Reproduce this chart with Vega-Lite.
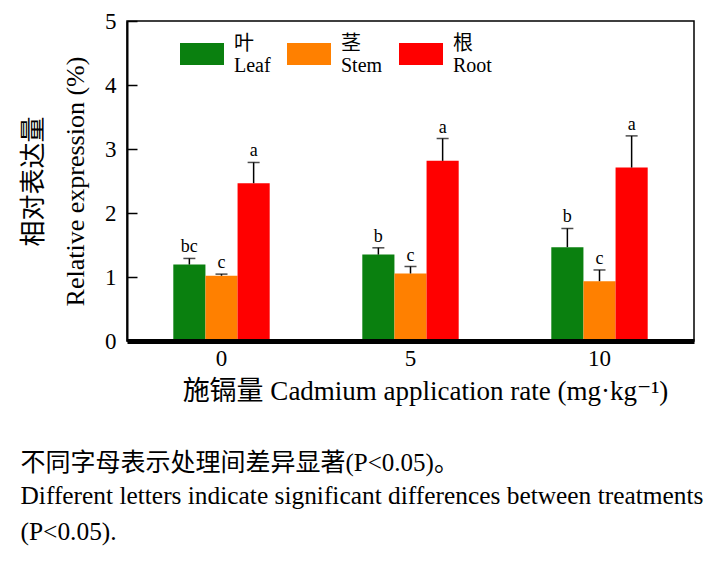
{
  "$schema": "https://vega.github.io/schema/vega-lite/v6.json",
  "width": 567,
  "height": 320,
  "padding": {"left": 20, "top": 10, "right": 10, "bottom": 10},
  "background": "white",
  "title": {
    "text": "不同字母表示处理间差异显著(P<0.05)。",
    "subtitle": ["Different letters indicate significant differences between treatments", "(P<0.05)."],
    "orient": "bottom",
    "anchor": "start",
    "frame": "bounds",
    "font": "Liberation Serif, Noto Sans CJK SC",
    "fontSize": 25,
    "fontWeight": "normal",
    "color": "black",
    "subtitleFont": "Liberation Serif",
    "subtitleFontSize": 25.4,
    "subtitleColor": "black",
    "subtitleLineHeight": 36,
    "subtitlePadding": 8,
    "offset": 47
  },
  "data": {
    "values": [
      {"rate": "0", "organ": "Leaf", "value": 1.195, "upper": 1.29, "letter": "bc"},
      {"rate": "0", "organ": "Stem", "value": 1.02, "upper": 1.045, "letter": "c"},
      {"rate": "0", "organ": "Root", "value": 2.466, "upper": 2.79, "letter": "a"},
      {"rate": "5", "organ": "Leaf", "value": 1.35, "upper": 1.456, "letter": "b"},
      {"rate": "5", "organ": "Stem", "value": 1.055, "upper": 1.164, "letter": "c"},
      {"rate": "5", "organ": "Root", "value": 2.815, "upper": 3.164, "letter": "a"},
      {"rate": "10", "organ": "Leaf", "value": 1.466, "upper": 1.758, "letter": "b"},
      {"rate": "10", "organ": "Stem", "value": 0.935, "upper": 1.11, "letter": "c"},
      {"rate": "10", "organ": "Root", "value": 2.71, "upper": 3.205, "letter": "a"}
    ]
  },
  "encoding": {
    "x": {
      "field": "rate",
      "type": "nominal",
      "sort": ["0", "5", "10"],
      "scale": {"paddingInner": 0.49, "paddingOuter": 0.245},
      "axis": {
        "title": "施镉量 Cadmium application rate (mg·kg⁻¹)",
        "labelAngle": 0,
        "ticks": false,
        "domainColor": "black",
        "domainWidth": 5,
        "labelFont": "Liberation Serif",
        "labelFontSize": 23,
        "labelColor": "black",
        "labelPadding": 6,
        "titleFont": "Liberation Serif, DejaVu Serif, Noto Sans CJK SC",
        "titleFontSize": 27,
        "titleFontWeight": "normal",
        "titleColor": "black",
        "titlePadding": 8,
        "titleX": 298,
        "titleAlign": "center",
        "zindex": 1
      }
    },
    "xOffset": {
      "field": "organ",
      "type": "nominal",
      "sort": ["Leaf", "Stem", "Root"],
      "scale": {"paddingInner": 0, "paddingOuter": 0}
    }
  },
  "layer": [
    {
      "mark": {"type": "bar"},
      "encoding": {
        "y": {
          "field": "value",
          "type": "quantitative",
          "scale": {"domain": [0, 5], "nice": false},
          "axis": {
            "values": [0, 0.5, 1, 1.5, 2, 2.5, 3, 3.5, 4, 4.5, 5],
            "labelExpr": "datum.value % 1 === 0 ? '' + datum.value : ''",
            "tickSize": {"condition": {"test": "datum.value % 1 !== 0", "value": -5}, "value": -10},
            "tickColor": "black",
            "tickWidth": 1.5,
            "domainColor": "black",
            "domainWidth": 2,
            "grid": false,
            "labelFont": "Liberation Serif",
            "labelFontSize": 23,
            "labelColor": "black",
            "labelPadding": 21,
            "title": ["相对表达量", "Relative expression (%)"],
            "titleFont": "Liberation Serif, Noto Sans CJK SC",
            "titleFontSize": 26,
            "titleFontWeight": "normal",
            "titleColor": "black",
            "titleLineHeight": 42,
            "titlePadding": 16
          }
        },
        "color": {
          "field": "organ",
          "type": "nominal",
          "scale": {"domain": ["Leaf", "Stem", "Root"], "range": ["#0a800f", "#ff8000", "#ff0000"]},
          "legend": {
            "orient": "none",
            "legendX": 53,
            "legendY": 11,
            "direction": "horizontal",
            "columns": 3,
            "title": null,
            "padding": 0,
            "symbolType": "M-1,-0.5H1V0.5H-1Z",
            "symbolSize": 1936,
            "symbolStrokeWidth": 0,
            "symbolOpacity": 1,
            "labelExpr": "datum.label === 'Leaf' ? ['叶', 'Leaf'] : datum.label === 'Stem' ? ['茎', 'Stem'] : ['根', 'Root']",
            "labelFont": "Liberation Serif, Noto Sans CJK SC",
            "labelFontSize": 20,
            "labelLineHeight": 29,
            "labelOffset": 10,
            "labelColor": "black",
            "labelLimit": 0,
            "columnPadding": 16,
            "encode": {"labels": {"update": {"dy": {"value": -10}}}}
          }
        }
      }
    },
    {
      "mark": {"type": "rule", "color": "black", "strokeWidth": 1.5},
      "encoding": {
        "y": {"field": "value", "type": "quantitative"},
        "y2": {"field": "upper"}
      }
    },
    {
      "mark": {"type": "tick", "color": "black", "thickness": 1.5, "size": 12},
      "encoding": {
        "y": {"field": "upper", "type": "quantitative"}
      }
    },
    {
      "mark": {"type": "text", "font": "Liberation Serif", "fontSize": 18, "color": "black", "baseline": "alphabetic", "dy": -6},
      "encoding": {
        "y": {"field": "upper", "type": "quantitative"},
        "text": {"field": "letter"}
      }
    }
  ],
  "config": {
    "view": {"stroke": "black", "strokeWidth": 1.5}
  }
}
